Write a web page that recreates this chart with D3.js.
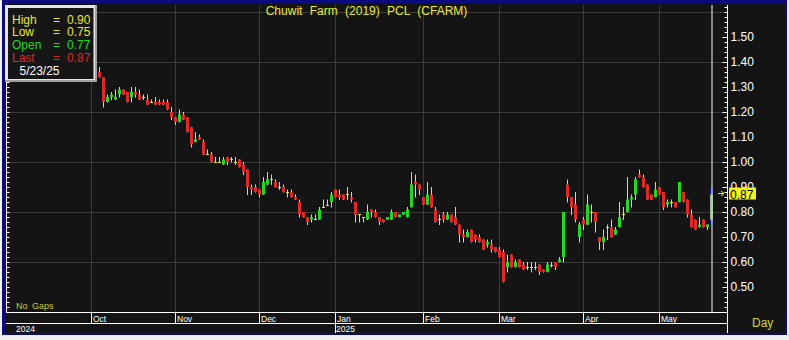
<!DOCTYPE html>
<html><head><meta charset="utf-8">
<script src="https://cdn.jsdelivr.net/npm/d3@7"></script>
<style>
html,body{margin:0;padding:0;background:#f0f0f0;overflow:hidden;}
svg{display:block;font-family:Arial,"Liberation Sans",sans-serif;}
</style></head><body>
<svg id="c" width="789" height="340"></svg>
<script>
// ---- data (one bar per trading day; first bar is the 3rd trading slot of Oct 2024) ----
const firstSlot = 2;
const open  = [1.36,1.34,1.24,1.26,1.25,1.27,1.29,1.28,1.26,1.28,1.27,1.26,1.25,1.24,1.24,1.24,1.24,1.24,1.20,
  1.18,1.16,1.19,1.18,1.14,1.08,1.10,1.08,1.03,1.03,1.00,1.00,0.99,1.02,1.01,1.00,1.01,0.99,0.97,0.90,0.90,
  0.89,0.87,0.91,0.93,0.92,0.90,0.90,0.88,0.88,0.86,0.84,0.80,0.78,0.77,0.77,0.77,0.82,0.83,0.84,
  0.89,0.87,0.87,0.87,0.86,0.84,0.79,0.78,0.77,0.81,0.80,0.78,0.77,0.77,0.77,0.80,0.78,0.79,0.78,0.82,0.92,0.91,
  0.86,0.83,0.87,0.81,0.77,0.79,0.77,0.79,0.78,0.75,0.71,0.70,0.73,0.71,0.70,0.69,0.67,0.67,0.66,
  0.65,0.64,0.58,0.63,0.58,0.61,0.59,0.58,0.58,0.58,0.59,0.57,0.56,0.59,0.60,0.60,0.62,0.91,0.86,0.83,0.70,
  0.77,0.75,0.80,0.80,0.70,0.68,0.74,0.74,0.71,0.74,0.79,0.80,0.85,0.87,0.95,0.94,0.91,0.87,0.86,
  0.90,0.88,0.83,0.84,0.84,0.84,0.88,0.85,0.79,0.77,0.74,0.77,0.74,0.77];
const high  = [1.38,1.34,1.27,1.28,1.29,1.30,1.29,1.28,1.30,1.30,1.29,1.27,1.27,1.25,1.26,1.25,1.25,1.25,1.22,
  1.18,1.21,1.20,1.18,1.14,1.12,1.11,1.09,1.05,1.04,1.02,1.02,1.02,1.02,1.02,1.02,1.01,1.00,0.97,0.91,0.91,
  0.89,0.94,0.96,0.95,0.93,0.92,0.91,0.89,0.89,0.87,0.85,0.80,0.78,0.79,0.79,0.82,0.85,0.85,0.88,
  0.89,0.89,0.87,0.90,0.88,0.84,0.79,0.78,0.83,0.81,0.81,0.78,0.77,0.78,0.81,0.80,0.79,0.80,0.82,0.96,0.95,0.91,
  0.86,0.92,0.90,0.82,0.79,0.80,0.80,0.79,0.82,0.75,0.73,0.73,0.73,0.71,0.71,0.69,0.69,0.69,0.66,
  0.66,0.65,0.63,0.63,0.61,0.61,0.60,0.60,0.60,0.60,0.59,0.57,0.60,0.60,0.60,0.62,0.80,0.93,0.86,0.88,0.76,
  0.78,0.87,0.83,0.80,0.70,0.73,0.75,0.77,0.74,0.84,0.82,0.94,0.87,0.94,0.97,0.95,0.91,0.87,0.92,
  0.90,0.88,0.85,0.85,0.84,0.92,0.88,0.85,0.81,0.77,0.78,0.77,0.75,0.90];
const low   = [1.34,1.22,1.24,1.25,1.25,1.26,1.27,1.24,1.24,1.26,1.25,1.25,1.23,1.24,1.23,1.23,1.23,1.21,1.17,
  1.15,1.16,1.17,1.12,1.06,1.08,1.09,1.03,1.03,1.00,1.00,1.00,0.99,0.99,1.00,0.99,0.98,0.95,0.87,0.87,0.88,
  0.86,0.87,0.91,0.91,0.90,0.89,0.88,0.86,0.86,0.85,0.78,0.78,0.75,0.76,0.77,0.77,0.82,0.83,0.82,
  0.86,0.85,0.85,0.85,0.84,0.76,0.76,0.76,0.77,0.78,0.78,0.75,0.76,0.77,0.77,0.78,0.78,0.79,0.78,0.82,0.86,0.87,
  0.83,0.83,0.82,0.76,0.75,0.76,0.77,0.76,0.75,0.68,0.68,0.70,0.68,0.68,0.68,0.65,0.66,0.64,0.64,
  0.62,0.52,0.56,0.58,0.58,0.58,0.57,0.57,0.56,0.57,0.55,0.56,0.56,0.58,0.57,0.60,0.60,0.84,0.79,0.76,0.68,
  0.73,0.75,0.76,0.72,0.65,0.65,0.69,0.70,0.71,0.74,0.77,0.80,0.82,0.85,0.94,0.90,0.85,0.85,0.86,
  0.87,0.81,0.82,0.82,0.82,0.84,0.84,0.78,0.74,0.73,0.74,0.74,0.73,0.75];
const close = [1.34,1.24,1.26,1.27,1.26,1.29,1.27,1.24,1.28,1.27,1.25,1.26,1.23,1.24,1.23,1.23,1.23,1.21,1.18,
  1.16,1.19,1.17,1.12,1.07,1.09,1.09,1.03,1.03,1.00,1.00,1.00,1.01,1.00,1.01,1.00,0.98,0.96,0.90,0.89,0.88,
  0.87,0.92,0.93,0.93,0.90,0.90,0.88,0.88,0.86,0.85,0.79,0.78,0.76,0.78,0.77,0.81,0.82,0.83,0.87,
  0.86,0.86,0.85,0.87,0.85,0.79,0.79,0.78,0.80,0.80,0.78,0.76,0.76,0.78,0.80,0.78,0.79,0.80,0.81,0.91,0.91,0.89,
  0.83,0.87,0.82,0.76,0.77,0.77,0.79,0.76,0.75,0.71,0.70,0.72,0.68,0.69,0.68,0.65,0.68,0.65,0.64,
  0.62,0.52,0.60,0.58,0.60,0.58,0.57,0.58,0.58,0.58,0.56,0.56,0.59,0.59,0.58,0.61,0.80,0.86,0.82,0.77,0.75,
  0.75,0.83,0.80,0.76,0.68,0.70,0.74,0.70,0.73,0.78,0.79,0.85,0.86,0.93,0.94,0.90,0.85,0.85,0.89,
  0.87,0.82,0.84,0.84,0.82,0.92,0.84,0.79,0.74,0.73,0.75,0.74,0.75,0.87];
const months     = ["Oct","Nov","Dec","Jan","Feb","Mar","Apr","May"];
const monthStart = [0,21,42,61,83,102,123,142];
const years      = ["2024","2025"];
const yearStart  = [null,61];
const priceTicks = ["0.50","0.60","0.70","0.80","0.90","1.00","1.10","1.20","1.30","1.40","1.50"];
const gridPrices = [0.6,0.8,1.0,1.2,1.4,1.6];
const title = "Chuwit Farm (2019) PCL (CFARM)";
const lastDate = "5/23/25";

// ---- drawing ----
const svg = d3.select("#c");
const W = 789, H = 340;
const L = 6, R = 727, T = 5, B = 312, B2 = 323, B3 = 333;
const nSlots = 159;
const x = d3.scaleBand().domain(d3.range(nSlots)).range([91, R]).padding(0);
const y = d3.scaleLinear().domain([0.40, 1.628]).range([B, T]);

const YEL = "#e8e83a", RED = "#e02a2a", GRN = "#22d822", WICK = "#e6e23c";

svg.append("rect").attr("x",0).attr("y",0).attr("width",W).attr("height",H).attr("fill","#f0f0f0");
svg.append("rect").attr("x",2).attr("y",0).attr("width",785).attr("height",335).attr("fill","#0b0b7e");
svg.append("rect").attr("x",5).attr("y",3).attr("width",780).attr("height",330).attr("fill","#141414");

// grid
const g = svg.append("g");
g.selectAll(".hg").data(gridPrices).join("line")
  .attr("x1",L).attr("x2",R).attr("y1",d=>Math.round(y(d))+0.5).attr("y2",d=>Math.round(y(d))+0.5)
  .attr("stroke","#3a3a3a").attr("stroke-width",1);
g.selectAll(".vg").data(monthStart).join("line")
  .attr("x1",d=>x(d)+0.5).attr("x2",d=>x(d)+0.5).attr("y1",T).attr("y2",B)
  .attr("stroke","#3a3a3a").attr("stroke-width",1);

// candles
const bars = open.map((o,k)=>({i:k+firstSlot,o,h:high[k],l:low[k],c:close[k],last:k===open.length-1}));
const cg = svg.append("g");
const normal = bars.filter(d=>!d.last);
cg.selectAll(".wick").data(normal).join("line")
  .attr("x1",d=>x(d.i)+0.5).attr("x2",d=>x(d.i)+0.5)
  .attr("y1",d=>y(d.h)).attr("y2",d=>y(d.l)+0.5)
  .attr("stroke",WICK).attr("stroke-width",1);
cg.selectAll(".body").data(normal).join("rect")
  .attr("x",d=>x(d.i)-1).attr("width",3)
  .attr("y",d=>d.o===d.c ? Math.round(y(d.o)) : y(Math.max(d.o,d.c)))
  .attr("height",d=>d.o===d.c ? 1 : Math.abs(y(d.o)-y(d.c)))
  .attr("fill",d=>d.o===d.c ? WICK : (d.c>d.o ? GRN : RED));

// highlighted last bar
const lb = bars[bars.length-1];
cg.append("rect").attr("x",x(lb.i)-1).attr("width",3).attr("y",y(lb.h)).attr("height",y(lb.l)-y(lb.h)).attr("fill","#1c1c90");
cg.append("rect").attr("x",x(lb.i)-1).attr("width",3).attr("y",y(Math.max(lb.o,lb.c))).attr("height",Math.abs(y(lb.o)-y(lb.c))).attr("fill","#44b044");
cg.append("rect").attr("x",x(lb.i)-1).attr("width",1).attr("y",y(Math.max(lb.o,lb.c))).attr("height",Math.abs(y(lb.o)-y(lb.c))).attr("fill","#a8a8a8");
// cursor line
svg.append("line").attr("x1",x(lb.i)+1).attr("x2",x(lb.i)+1).attr("y1",T).attr("y2",B).attr("stroke","#ffffff").attr("stroke-width",1);

// right axis
const minor = d3.range(0.40, 1.621, 0.02).map(v=>+v.toFixed(2));
const ax = svg.append("g").attr("transform",`translate(${R+0.5},0)`);
ax.call(d3.axisRight(y).tickValues(minor).tickSizeInner(-3).tickSizeOuter(0).tickFormat(""));
ax.append("g").call(d3.axisRight(y).tickValues(priceTicks.map(Number)).tickSizeInner(-5).tickSizeOuter(0).tickPadding(3).tickFormat((d,k)=>priceTicks[k]));
ax.selectAll("path.domain").remove();
ax.selectAll("line").attr("stroke","#ffffff");
ax.selectAll("text").attr("fill","#ffffff").attr("font-size",12).attr("font-family","Arial,'Liberation Sans',sans-serif");
svg.append("line").attr("x1",R+0.5).attr("x2",R+0.5).attr("y1",T).attr("y2",B3).attr("stroke","#fff");

// left axis
const lax = svg.append("g").attr("transform",`translate(${L+0.5},0)`);
lax.call(d3.axisLeft(y).tickValues(minor).tickSizeInner(-3).tickSizeOuter(0).tickFormat(""));
lax.selectAll("path.domain").remove();
lax.selectAll("line").attr("stroke","#ffffff");
svg.append("line").attr("x1",L+0.5).attr("x2",L+0.5).attr("y1",T).attr("y2",B).attr("stroke","#fff");

// last price marker
const lastY = y(lb.c);
svg.append("path").attr("d",`M${R-9},${lastY-1}h5`).attr("stroke",YEL).attr("stroke-width",1);
svg.append("path").attr("d",`M${R-6},${lastY-3.5}l3,2.5l-3,2.5`).attr("stroke",YEL).attr("fill","none").attr("stroke-width",1);
svg.append("rect").attr("x",R+2).attr("y",lastY-7).attr("width",27).attr("height",12).attr("fill","#f2f21e");
svg.append("text").attr("x",R+3).attr("y",lastY+4).attr("font-size",12).attr("fill","#000").text(lb.c.toFixed(2));

// x axis rows
svg.append("line").attr("x1",L).attr("x2",R).attr("y1",B+0.5).attr("y2",B+0.5).attr("stroke","#fff");
svg.append("line").attr("x1",L).attr("x2",R).attr("y1",B2+0.5).attr("y2",B2+0.5).attr("stroke","#fff");
svg.selectAll(".msep").data(monthStart).join("line")
  .attr("x1",d=>x(d)+0.5).attr("x2",d=>x(d)+0.5).attr("y1",B)
  .attr("y2",d=> yearStart.includes(d) ? B3 : B2).attr("stroke","#fff");
svg.selectAll(".mlab").data(months).join("text")
  .attr("x",(d,k)=>x(monthStart[k])+2).attr("y",B2-1)
  .attr("font-size",8.5).attr("fill","#ffffff").text(d=>d);
svg.selectAll(".ylab").data(years).join("text")
  .attr("x",(d,k)=> yearStart[k]===null ? 16 : x(yearStart[k])+1).attr("y",B3-1)
  .attr("font-size",8.5).attr("fill","#ffffff").text(d=>d);

// texts
svg.append("text").attr("x",366.5).attr("y",15).attr("text-anchor","middle")
  .attr("font-size",12).attr("fill","#eaea3c").style("word-spacing","4px").text(title);
svg.append("text").attr("x",16).attr("y",309).attr("font-size",9).attr("fill","#c8c832").style("word-spacing","2px").text("No Gaps");
svg.append("text").attr("x",752).attr("y",327).attr("font-size",12).attr("fill","#d6d63a").text("Day");

// legend box
const lg = svg.append("g");
lg.append("rect").attr("x",5).attr("y",5).attr("width",92).attr("height",77).attr("fill","#a0a0a0");
lg.append("rect").attr("x",5).attr("y",5).attr("width",90).attr("height",75).attr("fill","#e6e6e6");
lg.append("rect").attr("x",8).attr("y",8).attr("width",85.5).attr("height",71).attr("fill","#161616");
const rows = [["High",lb.h,"#e6e63a"],["Low",lb.l,"#e6e63a"],["Open",lb.o,"#22d822"],["Last",lb.c,"#d82a2a"]];
rows.forEach((r,k)=>{
  const yy = 23.5 + k*12.8;
  lg.append("text").attr("x",12).attr("y",yy).attr("font-size",12).attr("fill",r[2]).text(r[0]);
  lg.append("text").attr("x",53).attr("y",yy).attr("font-size",12).attr("fill",r[2]).text("=");
  lg.append("text").attr("x",67).attr("y",yy).attr("font-size",12).attr("fill",r[2]).text(r[1].toFixed(2));
});
lg.append("text").attr("x",19.5).attr("y",74.5).attr("font-size",12).attr("fill","#ffffff").text(lastDate);
</script>
</body></html>
